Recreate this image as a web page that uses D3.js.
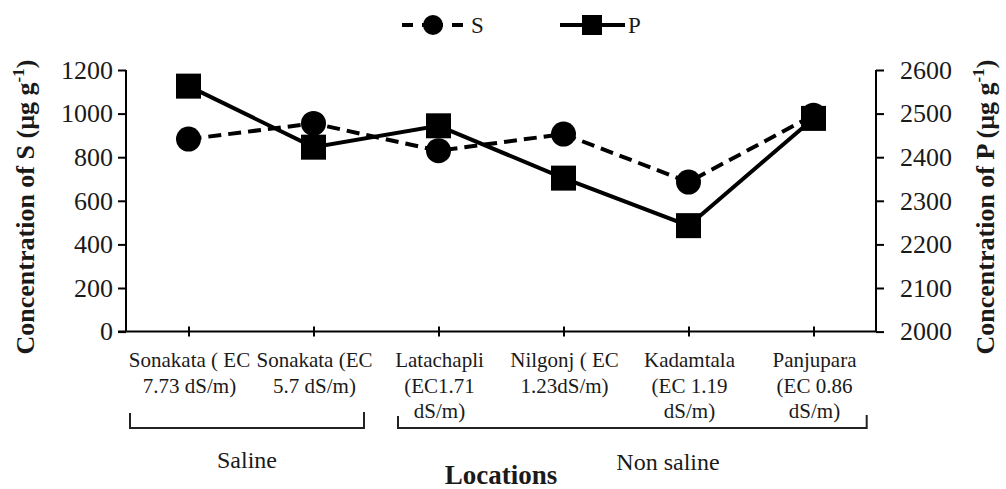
<!DOCTYPE html>
<html>
<head>
<meta charset="utf-8">
<script src="https://cdn.jsdelivr.net/npm/d3@7/dist/d3.min.js"></script>
<style>
  html, body { margin: 0; padding: 0; background: #fff; }
  svg { display: block; font-family: "Liberation Serif", "Times New Roman", serif; }
</style>
</head>
<body>
<svg id="chart" width="1006" height="489"></svg>
<script>
// Locations (each entry is one wrapped label line set)
const categories = [
  ["Sonakata ( EC", "7.73 dS/m)"],
  ["Sonakata (EC", "5.7 dS/m)"],
  ["Latachapli", "(EC1.71", "dS/m)"],
  ["Nilgonj ( EC", "1.23dS/m)"],
  ["Kadamtala", "(EC 1.19", "dS/m)"],
  ["Panjupara", "(EC 0.86", "dS/m)"]
];
// Concentration of S (µg g-1), left axis
const sValues = [883, 955, 830, 906, 686, 993];
// Concentration of P (µg g-1), right axis
const pValues = [2563, 2423, 2472, 2352, 2243, 2489];
const leftTicks = [0, 200, 400, 600, 800, 1000, 1200];
const rightTicks = [2000, 2100, 2200, 2300, 2400, 2500, 2600];
// Location groups
const groups = ["Saline", "Non saline"];

const svg = d3.select("#chart");
const plotLeft = 126, plotRight = 876, plotTop = 70, plotBottom = 331.6;

const keys = categories.map((c, i) => i);
const x = d3.scalePoint().domain(keys).range([plotLeft, plotRight]).padding(0.5);
const yS = d3.scaleLinear().domain([0, 1200]).range([plotBottom, plotTop]);
const yP = d3.scaleLinear().domain([2000, 2600]).range([plotBottom, plotTop]);

// Left axis
const gL = svg.append("g").attr("transform", `translate(${plotLeft},0)`)
  .call(d3.axisLeft(yS).tickValues(leftTicks).tickFormat(d3.format("d")).tickSize(8).tickPadding(5));
// Right axis
const gR = svg.append("g").attr("transform", `translate(${plotRight},0)`)
  .call(d3.axisRight(yP).tickValues(rightTicks).tickFormat(d3.format("d")).tickSize(8).tickPadding(16));
[gL, gR].forEach(g => {
  g.select(".domain").attr("stroke", "#000").attr("stroke-width", 2).attr("d", `M0,${plotTop}V${plotBottom}`);
  g.selectAll(".tick line").attr("stroke", "#000").attr("stroke-width", 2);
  g.selectAll(".tick text").attr("fill", "#1a1a1a").attr("font-size", 26)
    .attr("font-family", "Liberation Serif, serif");
});

// Bottom axis with crossing ticks
const gX = svg.append("g").attr("transform", `translate(0,${plotBottom})`)
  .call(d3.axisBottom(x).tickSize(0).tickFormat(""));
gX.select(".domain").attr("stroke", "#000").attr("stroke-width", 2)
  .attr("d", `M${plotLeft - 8},0H${plotRight}`);
gX.selectAll(".tick line").attr("stroke", "#000").attr("stroke-width", 2)
  .attr("y1", -5).attr("y2", 5);

// Category labels
const lab = svg.append("g").attr("font-size", 21).attr("fill", "#1a1a1a").attr("text-anchor", "middle");
categories.forEach((lines, i) => {
  const t = lab.append("text").attr("x", x(i) + 1).attr("y", 367);
  lines.forEach((ln, j) => {
    t.append("tspan").attr("x", x(i) + 1).attr("dy", j === 0 ? 0 : 25.5).text(ln);
  });
});

// Group brackets
const brackets = [
  { x0: 130, x1: 364, yTop: 413, lx: 247, ly: 468 },
  { x0: 398, x1: 866.7, yTop: 416, lx: 668, ly: 470 }
];
groups.forEach((name, i) => {
  const b = brackets[i];
  svg.append("path")
    .attr("d", `M${b.x0},${b.yTop}V428H${b.x1}V${b.yTop - 1}`)
    .attr("fill", "none").attr("stroke", "#222").attr("stroke-width", 2);
  svg.append("text").attr("x", b.lx).attr("y", b.ly).attr("text-anchor", "middle")
    .attr("font-size", 24).attr("fill", "#1a1a1a").text(name);
});

// Axis titles
svg.append("text").attr("x", 501).attr("y", 484).attr("text-anchor", "middle")
  .attr("font-size", 27).attr("font-weight", "bold").attr("fill", "#1a1a1a").text("Locations");

function yTitle(cx, label) {
  const t = svg.append("text")
    .attr("transform", `translate(${cx},207) rotate(-90)`)
    .attr("text-anchor", "middle").attr("font-size", 26).attr("font-weight", "bold")
    .attr("fill", "#1a1a1a");
  t.append("tspan").text(label + "  (µg g");
  t.append("tspan").attr("dy", -10).attr("font-size", 17).text("-1");
  t.append("tspan").attr("dy", 10).text(")");
}
yTitle(34, "Concentration of S");
yTitle(994, "Concentration of P");

// Lines
const lineS = d3.line().x((d, i) => x(i)).y(d => yS(d));
const lineP = d3.line().x((d, i) => x(i)).y(d => yP(d));

svg.append("path").datum(pValues).attr("d", lineP)
  .attr("fill", "none").attr("stroke", "#000").attr("stroke-width", 4);
svg.append("path").datum(sValues).attr("d", lineS)
  .attr("fill", "none").attr("stroke", "#000").attr("stroke-width", 4)
  .attr("stroke-dasharray", "13,7");

// Markers
svg.append("g").selectAll("rect").data(pValues).join("rect")
  .attr("x", (d, i) => x(i) - 12.5).attr("y", d => yP(d) - 12.5)
  .attr("width", 25).attr("height", 25).attr("fill", "#000");
svg.append("g").selectAll("circle").data(sValues).join("circle")
  .attr("cx", (d, i) => x(i)).attr("cy", d => yS(d)).attr("r", 12.5).attr("fill", "#000");

// Legend
const lg = svg.append("g");
lg.append("line").attr("x1", 402).attr("x2", 463).attr("y1", 25).attr("y2", 25)
  .attr("stroke", "#000").attr("stroke-width", 4).attr("stroke-dasharray", "11,9,21,9,11");
lg.append("circle").attr("cx", 433).attr("cy", 25).attr("r", 10).attr("fill", "#000");
lg.append("text").attr("x", 471).attr("y", 33).attr("font-size", 23).attr("fill", "#1a1a1a").text("S");
lg.append("line").attr("x1", 560).attr("x2", 625).attr("y1", 25).attr("y2", 25)
  .attr("stroke", "#000").attr("stroke-width", 4);
lg.append("rect").attr("x", 582).attr("y", 15).attr("width", 20).attr("height", 20).attr("fill", "#000");
lg.append("text").attr("x", 628).attr("y", 33).attr("font-size", 23).attr("fill", "#1a1a1a").text("P");
</script>
</body>
</html>
